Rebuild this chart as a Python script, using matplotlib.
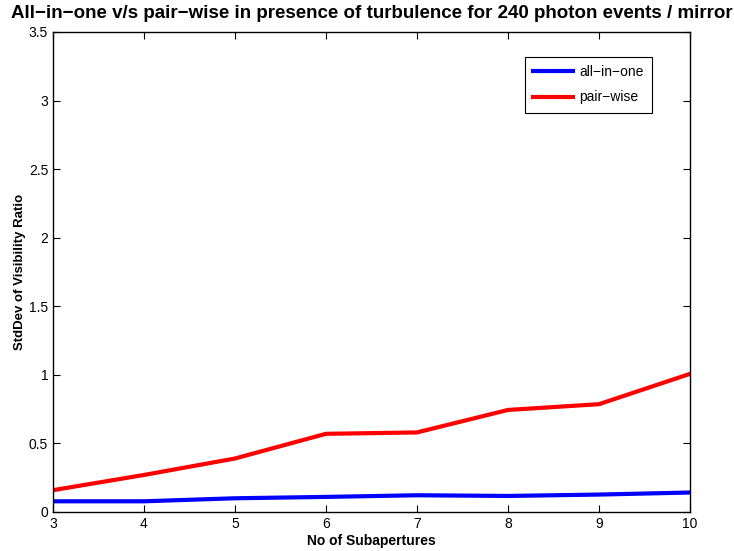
import matplotlib
matplotlib.use('Agg')
import matplotlib.pyplot as plt

plt.rcParams['font.family'] = ['Liberation Sans', 'DejaVu Sans']

subapertures = [3, 4, 5, 6, 7, 8, 9, 10]
all_in_one = [0.078, 0.078, 0.100, 0.110, 0.122, 0.117, 0.127, 0.142]
pair_wise = [0.159, 0.270, 0.390, 0.570, 0.580, 0.744, 0.786, 1.007]

fig = plt.figure(figsize=(7.34, 5.51), dpi=100)
ax = fig.add_axes([0.0722, 0.0708, 0.8678, 0.8712])

ax.plot(subapertures, all_in_one, color='#0000ff', linewidth=3, label='all\u2212in\u2212one')
ax.plot(subapertures, pair_wise, color='#ff0000', linewidth=3, label='pair\u2212wise')

ax.set_xlim(3, 10)
ax.set_ylim(0, 3.5)
ax.set_xticks(range(3, 11))
ax.set_yticks([0, 0.5, 1, 1.5, 2, 2.5, 3, 3.5])
ax.set_yticklabels(['0', '0.5', '1', '1.5', '2', '2.5', '3', '3.5'])
ax.tick_params(direction='in', top=True, right=True, labelsize=10, length=5)
for s in ax.spines.values():
    s.set_linewidth(1.0)

ax.set_xlabel('No of Subapertures', fontsize=10, fontweight='bold', labelpad=2)
ax.set_ylabel('StdDev of Visibility Ratio', fontsize=9.5, fontweight='bold')
ax.yaxis.set_label_coords(-0.042, 0.5)
ax.set_title('All\u2212in\u2212one v/s pair\u2212wise in presence of turbulence for 240 photon events / mirror',
             fontsize=13.5, fontweight='bold', pad=10)

leg = ax.legend(loc='upper right', bbox_to_anchor=(0.940, 0.948), borderaxespad=0,
                fontsize=10, fancybox=False, framealpha=1, edgecolor='black',
                handlelength=2.9, handletextpad=0.4, borderpad=0.6, labelspacing=0.8)
leg.get_frame().set_linewidth(0.8)

fig.savefig('out.png', dpi=100)
